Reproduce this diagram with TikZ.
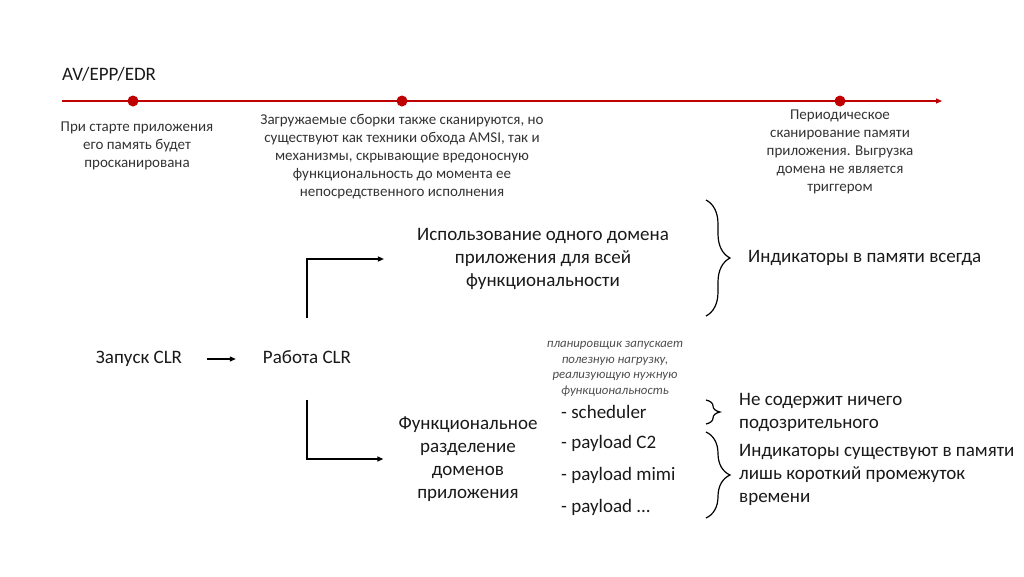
\documentclass[tikz,border=0pt]{standalone}
\usepackage{fontspec}
\setmainfont{Carlito}
\usetikzlibrary{arrows.meta,positioning,decorations.pathreplacing}

\begin{document}
\begin{tikzpicture}[
    x=1pt, y=1pt,
    txt/.style={font=\fontsize{19}{23}\selectfont, text=black!90, align=center, inner sep=0pt},
    clr/.style={txt, text height=13pt, text depth=4pt},
    note/.style={font=\fontsize{15}{18}\selectfont, text=black!80, align=center, inner sep=0pt},
    hint/.style={font=\fontsize{12.8}{15.5}\selectfont\itshape, text=black!70, align=center, inner sep=0pt},
    dot/.style={circle, fill=red!75!black, minimum size=11pt, inner sep=0pt},
    arrow/.style={->, >={Triangle[length=6pt, width=5pt]}, line width=1.3pt},
    redline/.style={->, >={Triangle[length=6pt, width=5pt]}, draw=red!75!black, line width=1.2pt},
    curly/.style={decorate, decoration={brace, amplitude=#1}, line width=1.2pt}
]
\useasboundingbox (0,0) rectangle (1024,-576);

% Timeline
\node[txt, anchor=west] (avtitle) at (62,-74) {AV/EPP/EDR};
\coordinate (tl0) at (62,-101);
\coordinate (tl1) at (942,-101);
\draw[redline] (tl0) -- (tl1);
\node[dot] (dot1) at (133,-101) {};
\node[dot] (dot2) at (402,-101) {};
\node[dot] (dot3) at (840,-101) {};

\node[note] (scan1) at (137,-146) {При старте приложения\\его память будет\\просканирована};
\node[note] (scan2) at (402,-157) {Загружаемые сборки также сканируются, но\\существуют как техники обхода AMSI, так и\\механизмы, скрывающие вредоносную\\функциональность до момента ее\\непосредственного исполнения};
\node[note] (scan3) at (840,-152) {Периодическое\\сканирование памяти\\приложения. Выгрузка\\домена не является\\триггером};

% CLR
\node[clr] (start) at (139,-359) {Запуск CLR};
\node[clr] (work) at (307,-359) {Работа CLR};
\draw[arrow, shorten <=25pt, shorten >=27pt] (start) -- (work);

\node[txt] (single) at (543,-259) {Использование одного домена\\приложения для всей\\функциональности};
\node[txt] (split) at (468,-459) {Функциональное\\разделение\\доменов\\приложения};
\draw[arrow, shorten >=33pt] ([yshift=32pt]work.north) |- (single.west);
\draw[arrow, shorten >=15pt] ([yshift=-32pt]work.south) |- (split.west);

% Domains
\node[hint] (sched) at (615,-369) {планировщик запускает\\полезную нагрузку,\\реализующую нужную\\функциональность};
\node[txt, anchor=west] (item1) at (561,-412) {- scheduler};
\node[txt, anchor=west] (item2) at (561,-443) {- payload C2};
\node[txt, anchor=west] (item3) at (561,-475) {- payload mimi};
\node[txt, anchor=west] (item4) at (561,-507) {- payload ...};

% Braces
\coordinate (br1a) at (706,-200);
\coordinate (br1b) at (706,-316);
\draw[curly=24pt] (br1a) -- (br1b);
\coordinate (br2a) at (706,-400);
\coordinate (br2b) at (706,-424);
\draw[curly=14pt] (br2a) -- (br2b);
\coordinate (br3a) at (706,-432);
\coordinate (br3b) at (706,-518);
\draw[curly=24pt] (br3a) -- (br3b);

\node[txt, anchor=west] (always) at (748,-258) {Индикаторы в памяти всегда};
\node[txt, anchor=west, align=left] (clean) at (739,-412) {Не содержит ничего\\подозрительного};
\node[txt, anchor=west, align=left] (short) at (739,-475) {Индикаторы существуют в памяти\\лишь короткий промежуток\\времени};

\end{tikzpicture}
\end{document}
